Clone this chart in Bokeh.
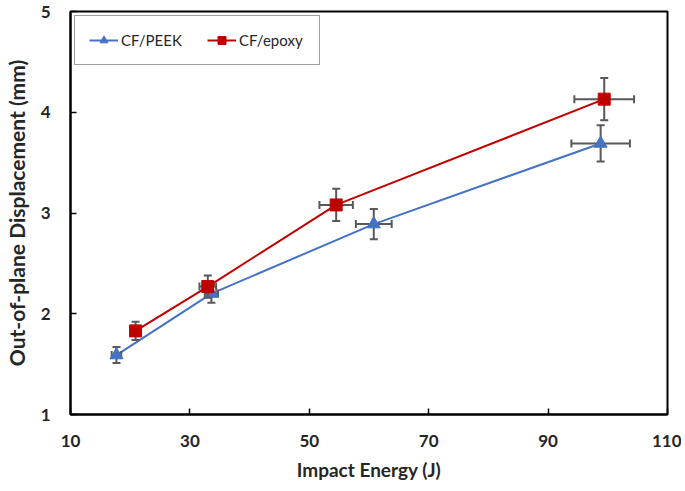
import math
from bokeh.plotting import figure
from bokeh.models import ColumnDataSource, FixedTicker, Range1d
from bokeh.embed import file_html
from bokeh.resources import INLINE

# ---- data ----
peek_x = [17.7, 33.6, 60.8, 98.8]
peek_y = [1.59, 2.20, 2.89, 3.69]
peek_xerr = [0.8, 1.1, 3.0, 4.9]
peek_yerr = [0.08, 0.09, 0.15, 0.18]

epoxy_x = [20.9, 33.0, 54.5, 99.4]
epoxy_y = [1.83, 2.27, 3.08, 4.13]
epoxy_xerr = [0.6, 1.4, 2.8, 5.0]
epoxy_yerr = [0.09, 0.11, 0.16, 0.21]

x_ticks = [10, 30, 50, 70, 90, 110]
y_ticks = [1, 2, 3, 4, 5]

FONT = "Lato"
ERR = "#595959"

p = figure(width=681, height=490, output_backend="svg", toolbar_location=None,
           x_range=Range1d(10, 110), y_range=Range1d(1, 5),
           min_border_left=65, min_border_right=14, min_border_top=11, min_border_bottom=76)
p.grid.visible = False
p.outline_line_color = "black"
p.outline_line_width = 2
p.background_fill_color = "white"
p.border_fill_color = "white"

for ax in (p.xaxis[0], p.yaxis[0]):
    ax.axis_line_color = "black"
    ax.axis_line_width = 2
    ax.major_tick_in = 6
    ax.major_tick_out = 0
    ax.major_tick_line_width = 1.5
    ax.minor_tick_line_color = None
    ax.major_label_text_font = FONT
    ax.major_label_text_font_style = "bold"
    ax.major_label_text_font_size = "17px"
    ax.major_label_text_color = "#262626"
    ax.axis_label_text_font = FONT
    ax.axis_label_text_font_style = "bold"
    ax.axis_label_text_color = "#262626"

p.xaxis.axis_label_text_font_size = "19px"
p.yaxis.axis_label_text_font_size = "21px"
p.xaxis.ticker = FixedTicker(ticks=x_ticks)
p.yaxis.ticker = FixedTicker(ticks=y_ticks)
p.xaxis.axis_label = "Impact Energy (J)"
p.yaxis.axis_label = "Out-of-plane Displacement (mm)"
p.xaxis.major_label_standoff = 20
p.yaxis.major_label_standoff = 20
p.xaxis.axis_label_standoff = 8
p.yaxis.axis_label_standoff = 9


def series(xs, ys, xe, ye, color, marker, size, label):
    src = ColumnDataSource(dict(
        x=xs, y=ys,
        xl=[a - e for a, e in zip(xs, xe)], xh=[a + e for a, e in zip(xs, xe)],
        yl=[a - e for a, e in zip(ys, ye)], yh=[a + e for a, e in zip(ys, ye)],
    ))
    p.line("x", "y", source=src, color=color, line_width=2, legend_label=label)
    # error bars
    p.segment(x0="xl", y0="y", x1="xh", y1="y", source=src, line_color=ERR, line_width=2)
    p.segment(x0="x", y0="yl", x1="x", y1="yh", source=src, line_color=ERR, line_width=2)
    p.scatter("x", "yl", source=src, marker="dash", size=8, line_color=ERR, line_width=2)
    p.scatter("x", "yh", source=src, marker="dash", size=8, line_color=ERR, line_width=2)
    p.scatter("xl", "y", source=src, marker="dash", size=8, angle=math.pi / 2,
              line_color=ERR, line_width=2)
    p.scatter("xh", "y", source=src, marker="dash", size=8, angle=math.pi / 2,
              line_color=ERR, line_width=2)
    p.scatter("x", "y", source=src, marker=marker, size=size, fill_color=color,
              line_color=color, legend_label=label)


series(peek_x, peek_y, peek_xerr, peek_yerr, "#4472C4", "triangle", 13, "CF/PEEK")
series(epoxy_x, epoxy_y, epoxy_xerr, epoxy_yerr, "#C00000", "square", 12, "CF/epoxy")

lg = p.legend[0]
lg.location = "top_left"
lg.orientation = "horizontal"
lg.margin = 4
lg.padding = 14
lg.spacing = 20
lg.glyph_width = 29
lg.label_standoff = 3
lg.label_width = 66
lg.label_text_font = FONT
lg.label_text_font_size = "15px"
lg.label_text_color = "#262626"
lg.border_line_color = "#404040"
lg.border_line_width = 1.5
lg.background_fill_alpha = 1

open("out.html", "w").write(file_html(p, INLINE))
